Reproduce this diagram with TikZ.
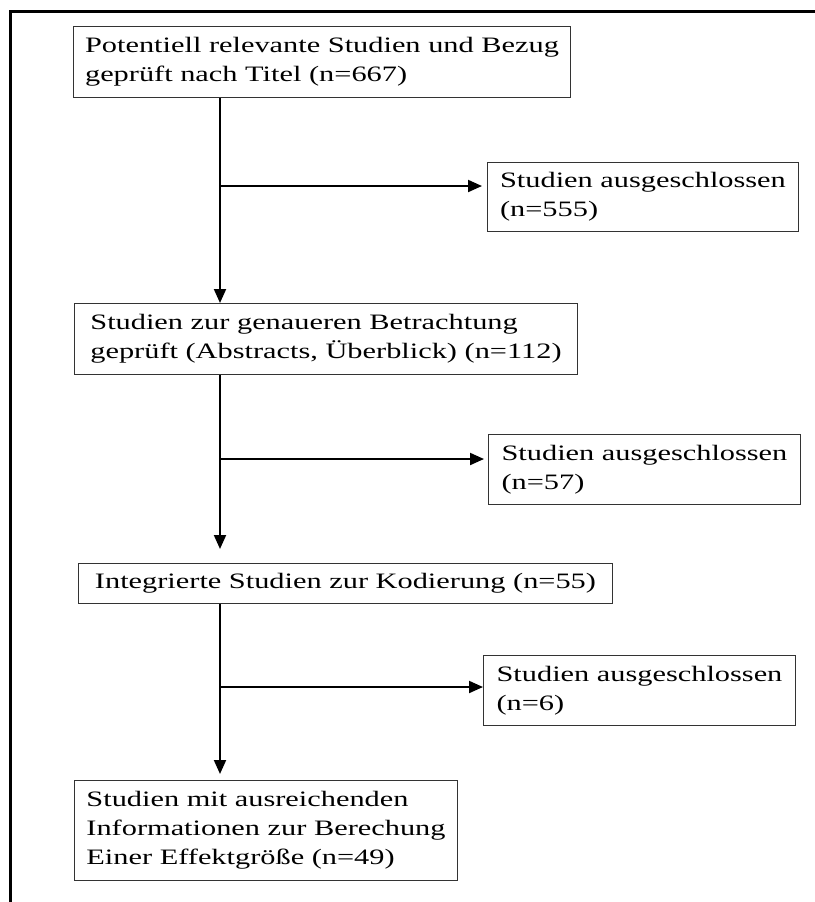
\documentclass[tikz,border=0pt]{standalone}
\usepackage{fontspec}
\setmainfont{Liberation Serif}[FakeStretch=1.38]
\usetikzlibrary{arrows.meta}
\begin{document}
\begin{tikzpicture}[
  x=0.5pt, y=-0.5pt,
  font=\fontsize{11pt}{14.5pt}\selectfont,
  stage/.style={draw=black!80, line width=0.5pt, anchor=north west, align=left, inner xsep=5pt},
  flow/.style={line width=1pt, -{Triangle[length=7pt,width=6pt]}},
  frame/.style={line width=1.5pt}
]
\useasboundingbox (0,0) rectangle (815,902);
\draw[frame] (10.5,902) -- (10.5,11) -- (815,11);

\node[stage, minimum width=248.5pt, minimum height=35.5pt] (titel) at (73,26)
  {Potentiell relevante Studien und Bezug\\geprüft nach Titel (n=667)};
\node[stage, minimum width=155.5pt, minimum height=34.5pt] (aus1) at (487,162)
  {Studien ausgeschlossen\\(n=555)};
\node[stage, minimum width=251.5pt, minimum height=35.5pt] (abstr) at (74,303)
  {Studien zur genaueren Betrachtung\\geprüft (Abstracts, Überblick) (n=112)};
\node[stage, minimum width=156pt, minimum height=35pt] (aus2) at (488,434)
  {Studien ausgeschlossen\\(n=57)};
\node[stage, minimum width=267pt, minimum height=20pt] (kod) at (78,563)
  {Integrierte Studien zur Kodierung (n=55)};
\node[stage, minimum width=156pt, minimum height=35pt] (aus3) at (483,655)
  {Studien ausgeschlossen\\(n=6)};
\node[stage, minimum width=191.5pt, minimum height=50pt] (eff) at (74,780)
  {Studien mit ausreichenden\\Informationen zur Berechung\\Einer Effektgröße (n=49)};

% spine and branch points
\coordinate (spine) at (220,0);
\coordinate (b1) at ([yshift=-12pt]aus1.north west);
\coordinate (b2) at ([yshift=-12.5pt]aus2.north west);
\coordinate (b3) at ([yshift=-16pt]aus3.north west);

\draw[flow] (titel.south -| spine) -- (abstr.north -| spine);
\draw[flow, shorten >=7pt] (abstr.south -| spine) -- (kod.north -| spine);
\draw[flow, shorten >=3pt] (kod.south -| spine) -- (eff.north -| spine);

\draw[flow, shorten >=2.5pt] (spine |- b1) -- (b1);
\draw[flow, shorten >=2pt] (spine |- b2) -- (b2);
\draw[flow] (spine |- b3) -- (b3);
\end{tikzpicture}
\end{document}
